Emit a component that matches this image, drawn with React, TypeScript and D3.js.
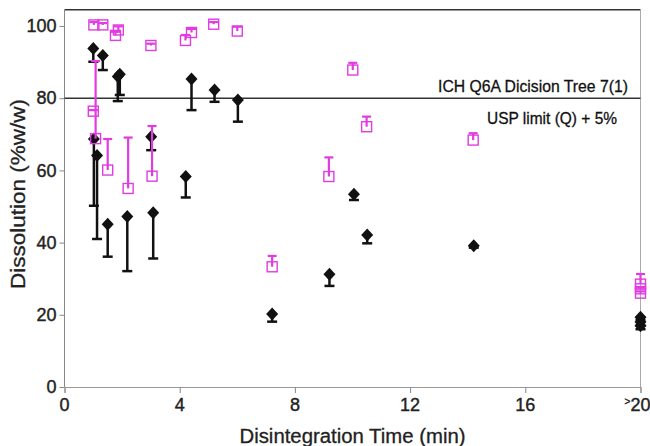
import React, { useEffect, useRef } from "react";
import * as d3 from "d3";

// black diamonds: mean dissolution with one-sided (downward) error bar
const blackTime = [1.0, 1.33, 1.85, 1.92, 4.41, 5.21, 6.02, 1.02, 1.13, 3.01, 4.21, 1.5, 2.18, 3.08, 7.21, 9.2, 10.05, 10.51, 14.21, 20, 20, 20];
const blackDiss = [93.8, 91.8, 86.0, 86.6, 85.3, 82.3, 79.5, 68.7, 64.1, 69.3, 58.3, 45.1, 47.2, 48.3, 20.2, 31.2, 53.4, 42.1, 39.1, 19.3, 18.0, 17.0];
const blackErr = [3.7, 4.0, 6.8, 5.7, 8.6, 3.3, 6.0, 18.5, 23.1, 3.7, 5.8, 9.0, 15.1, 12.7, 2.1, 3.2, 1.6, 2.3, 0.5, 0.8, 1.0, 1.0];

// magenta squares: mean dissolution with one-sided (upward) error bar
const magTime = [1.02, 1.33, 1.77, 1.87, 3.0, 4.2, 4.41, 5.18, 6.0, 1.0, 1.08, 1.5, 2.21, 3.04, 7.21, 9.18, 10.01, 10.49, 14.19, 20, 20, 20];
const magDiss = [100.3, 100.3, 97.4, 98.9, 94.6, 96.0, 98.2, 100.5, 98.6, 76.4, 68.8, 60.1, 55.0, 58.4, 33.3, 58.3, 87.8, 72.1, 68.4, 28.5, 27.2, 26.0];
const magErr = [0.8, 0.5, 1.0, 1.0, 0.5, 1.5, 1.0, 0.6, 1.2, 0.3, 21.5, 8.6, 14.1, 13.9, 3.0, 5.3, 2.0, 2.8, 1.9, 2.8, 0.5, 0.5];

const xTicks = [0, 4, 8, 12, 16, 20];
const yTicks = [0, 20, 40, 60, 80, 100];
const limitValue = 80;
const ichLabel = "ICH Q6A Dicision Tree 7(1)";
const uspLabel = "USP limit (Q) + 5%";

const MAGENTA = "#e03ce0";
const FONT = "'Liberation Sans', Arial, sans-serif";

export default function App() {
  const ref = useRef<SVGSVGElement>(null);

  useEffect(() => {
    const svg = d3.select(ref.current);
    svg.selectAll("*").remove();

    const x = d3.scaleLinear().domain([0, 20]).range([64.5, 640.5]);
    const y = d3.scaleLinear().domain([0, 100]).range([387, 26]);
    const yTop = y(104.5);

    // frame
    svg.append("line")
      .attr("x1", x(0)).attr("x2", x(20)).attr("y1", yTop).attr("y2", yTop)
      .attr("stroke", "#333").attr("stroke-width", 1.5);
    svg.append("line")
      .attr("x1", x(20)).attr("x2", x(20)).attr("y1", yTop).attr("y2", y(0))
      .attr("stroke", "#aaa").attr("stroke-width", 1);

    // y axis
    const yAxis = svg.append("g")
      .attr("transform", `translate(${x(0)},0)`)
      .call(d3.axisLeft(y).tickValues(yTicks).tickSize(5).tickFormat(d3.format("d")));
    yAxis.select(".domain").attr("stroke", "#888").attr("d", `M0,${yTop}V${y(0)}`);
    yAxis.selectAll(".tick line").attr("stroke", "#888");
    yAxis.selectAll(".tick text")
      .attr("x", -8)
      .attr("fill", "#222")
      .attr("stroke", "#222").attr("stroke-width", 0.4)
      .style("font-family", FONT)
      .style("font-size", "18px");

    // x axis
    const xAxis = svg.append("g")
      .attr("transform", `translate(0,${y(0)})`)
      .call(d3.axisBottom(x).tickValues(xTicks).tickSize(6).tickFormat(() => ""));
    xAxis.select(".domain").attr("stroke", "#999");
    xAxis.selectAll(".tick line").attr("stroke", "#888");

    xTicks.forEach(t => {
      const txt = svg.append("text")
        .attr("x", x(t))
        .attr("y", 411)
        .attr("text-anchor", "middle")
        .attr("fill", "#222")
        .attr("stroke", "#222").attr("stroke-width", 0.4)
        .style("font-family", FONT)
        .style("font-size", "18px");
      if (t === 20) {
        txt.attr("x", x(t) - 3);
        txt.append("tspan").attr("font-size", "10px").attr("dy", -6).text(">");
        txt.append("tspan").attr("dy", 6).text("20");
      } else {
        txt.text(t);
      }
    });

    // titles
    svg.append("text")
      .attr("x", x(10)).attr("y", 443)
      .attr("text-anchor", "middle")
      .attr("textLength", 226).attr("lengthAdjust", "spacingAndGlyphs")
      .attr("fill", "#222")
      .attr("stroke", "#222").attr("stroke-width", 0.3)
      .style("font-family", FONT).style("font-size", "20px")
      .text("Disintegration Time (min)");

    svg.append("text")
      .attr("transform", `translate(25,${194}) rotate(-90)`)
      .attr("text-anchor", "middle")
      .attr("textLength", 190).attr("lengthAdjust", "spacingAndGlyphs")
      .attr("fill", "#222")
      .attr("stroke", "#222").attr("stroke-width", 0.3)
      .style("font-family", FONT).style("font-size", "20px")
      .text("Dissolution (%w/w)");

    // limit line + labels
    svg.append("line")
      .attr("x1", x(0)).attr("x2", x(20)).attr("y1", y(limitValue)).attr("y2", y(limitValue))
      .attr("stroke", "#333").attr("stroke-width", 1.5);
    svg.append("text")
      .attr("x", 628).attr("y", y(limitValue) - 6)
      .attr("text-anchor", "end")
      .attr("textLength", 190).attr("lengthAdjust", "spacingAndGlyphs")
      .attr("fill", "#111")
      .attr("stroke", "#111").attr("stroke-width", 0.3)
      .style("font-family", FONT).style("font-size", "17px")
      .text(ichLabel);
    svg.append("text")
      .attr("x", 617).attr("y", y(limitValue) + 26)
      .attr("text-anchor", "end")
      .attr("textLength", 130).attr("lengthAdjust", "spacingAndGlyphs")
      .attr("fill", "#111")
      .attr("stroke", "#111").attr("stroke-width", 0.3)
      .style("font-family", FONT).style("font-size", "16px")
      .text(uspLabel);

    const plot = svg.append("g");

    // black series
    const blackData = blackTime.map((t, i) => ({ t, v: blackDiss[i], e: blackErr[i] }));
    const bg = plot.selectAll(".blk").data(blackData).join("g").attr("class", "blk");
    bg.append("line")
      .attr("x1", d => x(d.t)).attr("x2", d => x(d.t))
      .attr("y1", d => y(d.v)).attr("y2", d => y(d.v - d.e))
      .attr("stroke", "#111").attr("stroke-width", 2.5);
    bg.append("line")
      .attr("x1", d => x(d.t) - 5).attr("x2", d => x(d.t) + 5)
      .attr("y1", d => y(d.v - d.e)).attr("y2", d => y(d.v - d.e))
      .attr("stroke", "#111").attr("stroke-width", 2.5);
    bg.append("path")
      .attr("transform", d => `translate(${x(d.t)},${y(d.v)})`)
      .attr("d", "M0,-6.5L6,0L0,6.5L-6,0Z")
      .attr("fill", "#111");

    // magenta series
    const magData = magTime.map((t, i) => ({ t, v: magDiss[i], e: magErr[i] }));
    const mg = plot.selectAll(".mag").data(magData).join("g").attr("class", "mag");
    mg.append("rect")
      .attr("x", d => x(d.t) - 5).attr("y", d => y(d.v) - 5)
      .attr("width", 10).attr("height", 10)
      .attr("fill", "none").attr("stroke", MAGENTA).attr("stroke-width", 1.4);
    mg.append("line")
      .attr("x1", d => x(d.t)).attr("x2", d => x(d.t))
      .attr("y1", d => y(d.v)).attr("y2", d => y(d.v + d.e))
      .attr("stroke", MAGENTA).attr("stroke-width", 2.2);
    mg.append("line")
      .attr("x1", d => x(d.t) - 4.5).attr("x2", d => x(d.t) + 4.5)
      .attr("y1", d => y(d.v + d.e)).attr("y2", d => y(d.v + d.e))
      .attr("stroke", MAGENTA).attr("stroke-width", 2.2);
  }, []);

  return (
    <svg
      ref={ref}
      width={650}
      height={446}
      style={{ position: "absolute", left: 0, top: 0, background: "#fff" }}
    />
  );
}
